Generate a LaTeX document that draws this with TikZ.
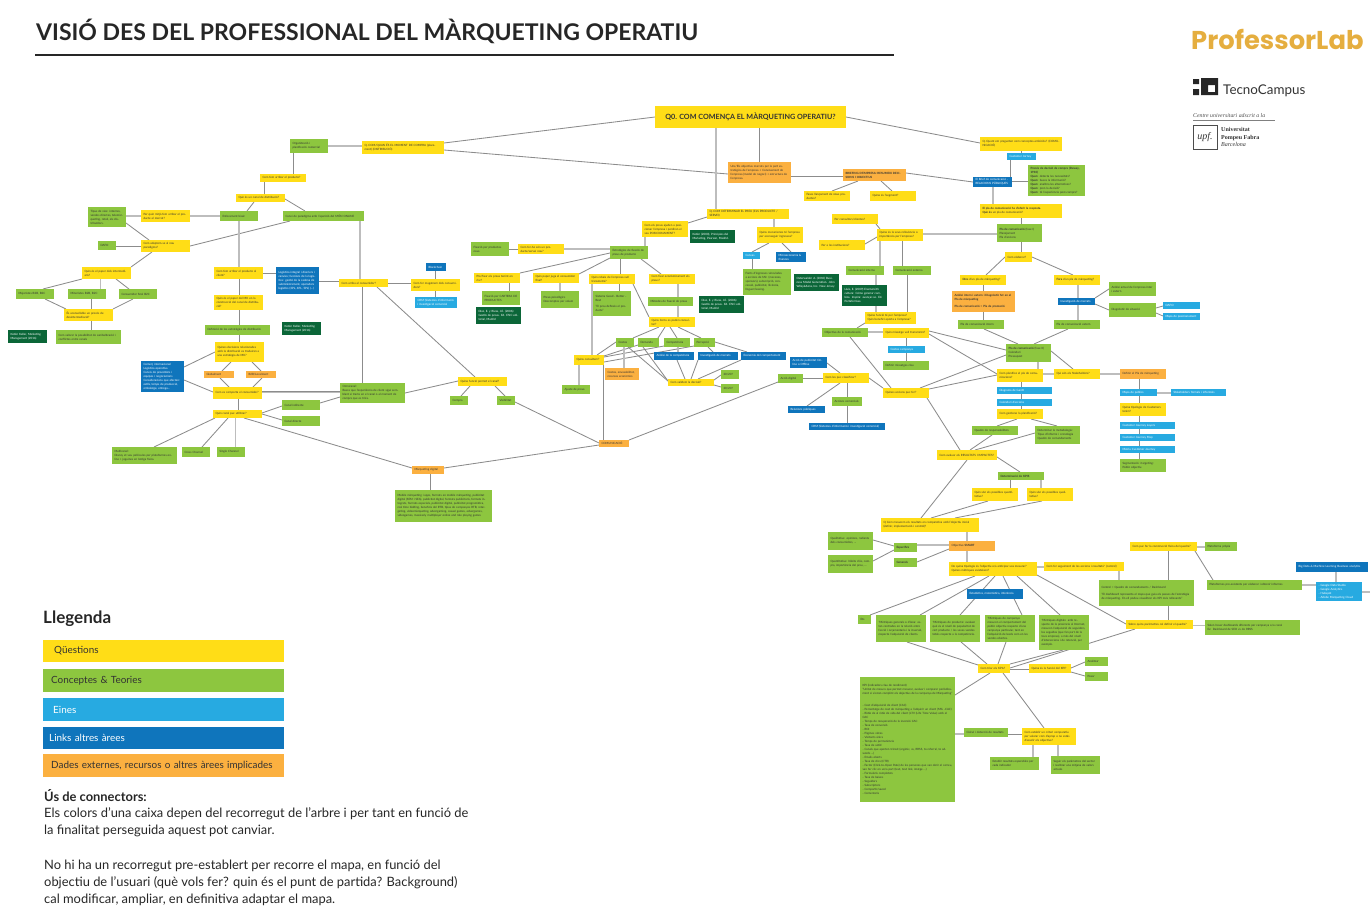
\documentclass[tikz,border=0pt]{standalone}
\usepackage{fontspec}
\setmainfont{Lato}
\newfontfamily\logofont{Poppins}
\newfontfamily\serifl{Liberation Serif}
\definecolor{cy}{HTML}{FFDD17}
\definecolor{cg}{HTML}{8DC63F}
\definecolor{cc}{HTML}{27AAE1}
\definecolor{cb}{HTML}{0F75BC}
\definecolor{co}{HTML}{FBB040}
\definecolor{cd}{HTML}{0B6638}
\definecolor{ctx}{HTML}{333333}
\definecolor{clogo}{HTML}{E5AE3F}
\definecolor{lthin}{HTML}{8C8C8C}
\definecolor{lthick}{HTML}{BDBDBD}
\pgfdeclarelayer{bg}
\pgfsetlayers{bg,main}
\tikzset{
 boxn/.style={inner xsep=2.7pt,inner ysep=0pt,align=left,anchor=center,font=\fontsize{2.9}{4}\selectfont},
 sy/.style={boxn,fill=cy,text=ctx},
 sg/.style={boxn,fill=cg,text=ctx},
 sc/.style={boxn,fill=cc,text=white},
 sb/.style={boxn,fill=cb,text=white},
 so/.style={boxn,fill=co,text=ctx},
 sd/.style={boxn,fill=cd,text=white},
 cn/.style={draw=lthin,line width=0.85pt},
 cl/.style={draw=lthick,line width=1.5pt},
 legbox/.style={inner sep=0pt,anchor=west,minimum height=22.5pt,minimum width=241pt,text width=233pt,align=left,font=\fontsize{9.9}{12}\selectfont},
 bodytxt/.style={inner sep=0pt,anchor=west,text=black!85,font=\fontsize{12.9}{14}\selectfont},
}
% node from its rectangle: name, style, x1, y1, x2, y2, text
\newcommand\nd[7]{%
 \pgfmathsetmacro\ncx{(#3+#5)/2}\pgfmathsetmacro\ncy{(#4+#6)/2}%
 \pgfmathsetmacro\nw{#5-#3}\pgfmathsetmacro\nh{#6-#4}\pgfmathsetmacro\ntw{#5-#3-5.0}%
 \expandafter\xdef\csname ndx#1\endcsname{\ncx}\expandafter\xdef\csname ndy#1\endcsname{\ncy}%
 \node[#2,inner xsep=2.5pt,minimum width=\nw pt,minimum height=\nh pt,text width=\ntw pt] (#1) at (\ncx,\ncy) {#7};}
% connector from node to node, each end placed on its node
\newcommand\lk[5][cn]{%
 \draw[#1] ([shift={(#3)},shift={(-\csname ndx#2\endcsname,-\csname ndy#2\endcsname)}]#2.center) --
 ([shift={(#5)},shift={(-\csname ndx#4\endcsname,-\csname ndy#4\endcsname)}]#4.center);}
\begin{document}
\begin{tikzpicture}[x=1pt,y=-1pt]
\useasboundingbox (0,0) rectangle (1370,905);
% title and logos
\node[inner sep=0pt,anchor=west,text=black!85,font=\fontsize{23}{28}\bfseries\selectfont] (title) at (36,31) {VISIÓ DES DEL PROFESSIONAL DEL MÀRQUETING OPERATIU};
\coordinate (tla) at (35,55); \coordinate (tlb) at (894,55);
\draw[black!85,line width=1.5pt] (tla) -- (tlb);
\node[inner sep=0pt,anchor=west,text=clogo,font=\logofont\fontsize{25.8}{30}\bfseries\selectfont] (plab) at (1191,39) {ProfessorLab};
\fill[black!85] (1193,79) rectangle (1199,84) (1193,89) rectangle (1199,95);
\fill[black!85,even odd rule] (1201,78) rectangle (1218,95) (1208,85) rectangle (1215,92);
\node[inner sep=0pt,anchor=west,text=black!80,font=\fontsize{13.4}{14}\selectfont] (tcamp) at (1223,91) {TecnoCampus};
\node[inner sep=0pt,anchor=west,text=black!70,font=\serifl\itshape\fontsize{5.8}{6}\selectfont] (adscr) at (1193,116) {Centre universitari adscrit a la};
\coordinate (ada) at (1193,120); \coordinate (adb) at (1275,120);
\draw[black!50,line width=0.4pt] (ada) -- (adb);
\node[draw=black!70,line width=0.7pt,inner sep=0pt,minimum width=24pt,minimum height=24pt,font=\serifl\itshape\fontsize{10}{10}\selectfont,text=black!80] (upf) at (1205,137) {upf.};
\node[inner sep=0pt,anchor=west,align=left,text=black!80,font=\serifl\fontsize{6}{7.3}\selectfont] (upft) at (1221,137) {\textbf{Universitat}\\\textbf{Pompeu Fabra}\\\textit{Barcelona}};

% ---------- nodes
\node[sy,inner xsep=0pt,minimum width=191pt,minimum height=22pt,align=center,font=\fontsize{7.2}{10}\bfseries\selectfont] (qzero) at (750.5,117) {Q0. COM COMENÇA EL MÀRQUETING OPERATIU?};
\expandafter\gdef\csname ndxqzero\endcsname{750.5}\expandafter\gdef\csname ndyqzero\endcsname{117}
\nd{org}{sg}{290}{139}{328}{153}{Organització i\\planificació comercial}
\nd{qa}{sy}{362}{141}{444}{154}{Q. COM/QUAN ÉS EL MOMENT DE COMPRA (placement) (DISTRIBUCIÓ)}
\nd{arrib}{sy}{260}{174}{306}{182}{Com fem arribar el producte?}
\nd{qcan}{sy}{236}{194}{285}{202}{Què és un canal de distribució?}
\nd{enfoc}{sg}{220}{211}{258}{221}{Enfocament bàsic}
\nd{canvi}{sg}{283}{211}{364}{221}{Canvi de paradigma amb l'aparició del MÓN ONLINE}
\nd{mitja}{sy}{141}{210}{190}{222}{Per quin mitjà fem arribar el producte al mercat?}
\nd{tipus}{sg}{88}{207}{126}{227}{Tipus de vies: internes, vendes directes, telemàrqueting, retail, els distribuïdors.}
\nd{dafoa}{sg}{98}{241}{116}{250}{DAFO}
\nd{adapt}{sy}{141}{240}{190}{252}{Com adaptem-se al nou paradigma?}
\nd{paper}{sy}{82}{267}{131}{279}{Quin és el paper dels intermediaris?}
\nd{major}{sg}{16}{289}{54}{299}{Majoristes B2B, B2C}
\nd{minor}{sg}{68}{289}{106}{299}{Minoristes B2B, B2C}
\nd{consf}{sg}{119}{289}{157}{299}{Consumidor final B2C}
\nd{desint}{sy}{64}{309}{113}{321}{És aconsellable un procés de desintermediació?}
\nd{valor}{sg}{56}{330}{121}{344}{Com valorar la possibilitat de sanibalització i conflictes entre canals}
\nd{kota}{sd}{8}{330}{47}{343}{Kotler Keller, Marketing Management (2016)}
\nd{qclient}{sy}{214}{267}{263}{279}{Com fem arribar el producte al client?}
\nd{logis}{sb}{276}{267}{319}{294}{Logística integral i diarriers i canvies; funcions de la logística: gestió de la cadena de subministrament, operadors logístics (3PL, 4PL, 5PL) (...)}
\nd{papermk}{sy}{214}{295}{263}{310}{Quin és el paper del MK en la construcció del canal de distribució?}
\nd{defest}{sg}{205}{325}{270}{335}{Definició de les estratègies de distribució}
\nd{kotb}{sd}{282}{322}{321}{335}{Kotler Keller, Marketing Management (2016)}
\nd{decis}{sy}{215}{342}{264}{362}{Quines decisions relacionades amb la distribució es traduiran a una estratègia de MK?}
\nd{comerc}{sb}{141}{361}{184}{392}{Comerç internacional\\Logística operativa\\Canvis de proveïdors i equipos i negociacions\\Consideracions que afecten: estils, temps de producció, embalatge, entrega...}
\nd{global}{so}{204}{371}{234}{378}{\centering Globalment}
\nd{bloc}{so}{246}{371}{276}{378}{\centering B2B/Localment}
\nd{compor}{sy}{213}{387}{262}{399}{Com es comporta el consumidor?}
\nd{omni}{sg}{340}{383}{405}{403}{Omnicanal:\\Busca que l'experiència de client sigui semblant si tracta en el canal o al moment de compra que es triés.}
\nd{quincan}{sy}{213}{410}{262}{418}{Quin canal puc utilitzar?}
\nd{indir}{sg}{282}{400}{320}{410}{Canal indirecte}
\nd{direc}{sg}{282}{416}{320}{426}{Canal directe}
\nd{multi}{sg}{112}{447}{177}{464}{Multicanal:\\Disney et veu pel·lícules per plataformes online + joguines en botiga física.}
\nd{cross}{sg}{182}{447}{210}{457}{\centering Cross Channel}
\nd{single}{sg}{217}{447}{245}{457}{\centering Single Channel}
\nd{mkdig}{so}{412}{466}{444}{474}{\centering Màrqueting digital}
\nd{mobile}{sg}{395}{490}{492}{522}{Mobile màrqueting i apps, formats en mobile màrqueting, publicitat digital (SEM i SEA), publicitat digital, formats publicitaris, formats integrats, formats especials, publicitat digital, publicitat programàtica, real time bidding, beneficis del RTB, tipus de campanyes RTB, retargeting, videomàrqueting, advergaming, casual games, advergames, videogames, massively multiplayer online and role playing games}
\nd{comarr}{sy}{339}{279}{388}{287}{Com arriba al consumidor?}
\nd{magat}{sy}{411}{279}{460}{291}{Com fer magatzem dels consumidors?}
\nd{block}{sb}{426}{263}{446}{271}{\centering Blockchain}
\nd{crma}{sc}{415}{297}{457}{308}{CRM (Sistemes d'informació i investigació comercial}
\nd{fixn}{sg}{471}{242}{509}{256}{Fixació per productes nous}
\nd{comfa}{sy}{518}{244}{564}{254}{Com fer-ho són un producte/servei nou?}
\nd{prorisc}{sy}{474}{273}{520}{283}{Pro/fixar els preus tenint en risc?}
\nd{fixcart}{sg}{482}{291}{520}{305}{Fixació per CARTERA DE PRODUCTES}
\nd{diaza}{sd}{476}{307}{521}{324}{Diaz, E. y Rivas, J.E. (2006): Gestió de preus. Ed. ESIC editorial, Madrid}
\nd{qpap}{sy}{533}{273}{579}{283}{Quin paper juga el consumidor final?}
\nd{psico}{sg}{541}{291}{579}{308}{Preus psicològics\\Descomptes per volum}
\nd{rebaix}{sy}{589}{274}{635}{284}{Quin rebaix de l'empresa vull transmetre?}
\nd{sistem}{sg}{593}{291}{631}{316}{Sistema Good - Better - Best\\[2pt]``El preu defineix el producte''}
\nd{unso}{so}{728}{162}{791}{183}{Uns/Els objectius marcats per la part estratègica de l'empresa + Coneixement de l'empresa (model de negoci) + estructura de l'empresa.}
\nd{brief}{so}{843}{169}{906}{181}{\textbf{BRIEFING D'EMPRESA: RESUMEIX DECISIONS I OBJECTIUS}}
\nd{fases}{sy}{804}{191}{850}{201}{Fases llançament de nous productes?}
\nd{segm}{sy}{870}{191}{916}{201}{Quina és l'segment?}
\nd{qb}{sy}{707}{209}{789}{219}{Q. COM DETERMINAR EL PREU (ELS PRODUCTE / SERVEI)}
\nd{posic}{sy}{642}{221}{688}{237}{Com els preus ajuden a posicionar l'empresa i perdiran el seu POSICIONAMENT?}
\nd{kotc}{sd}{690}{230}{735}{243}{Kotler (2000), Principios del Marketing, Pearson, Madrid.}
\nd{estrat}{sg}{610}{246}{648}{259}{Estratègies de fixació de preus de producte}
\nd{mecan}{sy}{757}{227}{803}{243}{Quins mecanismes té l'empresa per aconseguir ingressos?}
\nd{canvas}{sc}{743}{252}{760}{259}{\centering Canvas}
\nd{micro}{sb}{776}{252}{806}{262}{Microeconomia \& finances}
\nd{fonts}{sg}{743}{269}{791}{295}{Fonts d'ingressos vinculades a accions de Mk: (mecenes, sponsors), subscripció, concessió, publicitat, llicència, lloguer/leasing.}
\nd{oster}{sd}{794}{274}{839}{291}{Osterwalder A. (2010) Business Model Generation. John Wiley\&Sons, Inc. New Jersey}
\nd{diazb}{sd}{699}{296}{744}{313}{Diaz, E. y Rivas, J.E. (2006): Gestió de preus. Ed. ESIC editorial, Madrid}
\nd{comfix}{sy}{649}{274}{695}{284}{Com fixar econòmicament els preus?}
\nd{metod}{sg}{648}{297}{693}{306}{Mètodes de fixació de preus}
\nd{items}{sy}{649}{317}{695}{327}{Quins ítems es poden consultar?}
\nd{costos}{sg}{616}{338}{634}{347}{\centering Costos}
\nd{deman}{sg}{638}{338}{659}{347}{\centering Demanda}
\nd{compet}{sg}{664}{338}{690}{347}{\centering Competència}
\nd{percep}{sg}{694}{338}{715}{347}{\centering Percepció}
\nd{anacom}{sb}{654}{352}{694}{360}{\centering Anàlisi de la competència}
\nd{invmer}{sb}{698}{352}{738}{360}{\centering Investigació de mercats}
\nd{econ}{sb}{741}{352}{786}{360}{\centering Economia del comportament}
\nd{qcons}{sy}{574}{355}{604}{365}{Quins consultem?}
\nd{cosext}{so}{605}{368}{639}{380}{Costos, envasabilitat, recursos econòmics}
\nd{ajust}{sg}{562}{385}{590}{394}{\centering Ajuste de preus}
\nd{valid}{sy}{668}{379}{714}{386}{Com validem la decisió?}
\nd{xxa}{sg}{721}{370}{739}{379}{\centering 20/20?}
\nd{xxb}{sg}{721}{384}{739}{393}{\centering 20/20?}
\nd{comun}{so}{599}{440}{629}{447}{\centering COMUNICACIÓ}
\nd{qfunc}{sy}{458}{377}{507}{386}{Quina funció permet el canal?}
\nd{compra}{sg}{450}{396}{468}{405}{\centering Compra}
\nd{visib}{sg}{497}{396}{515}{405}{\centering Visibilitat}
\nd{acdig}{sg}{778}{374}{803}{383}{\centering Acció digital}
\nd{class}{sy}{823}{373}{869}{383}{Com les puc classificar?}
\nd{acpub}{sb}{790}{357}{827}{368}{Acció de publicitat Online o Offline}
\nd{relpub}{sb}{788}{406}{825}{413}{Relacions públiques}
\nd{accom}{sg}{832}{397}{862}{406}{\centering Accions comercials}
\nd{crmb}{sb}{809}{423}{885}{430}{\centering CRM (Sistemes d'informació i investigació comercial)}
\nd{accio}{sy}{883}{388}{929}{398}{Quines accions puc fer?}
\nd{objcom}{sg}{822}{328}{868}{337}{\centering Objectius de la comunicació}
\nd{missa}{sy}{883}{328}{929}{338}{Quin missatge vull transmetre?}
\nd{costca}{sc}{888}{346}{925}{353}{Costos campanya}
\nd{defmis}{sg}{883}{361}{929}{370}{\centering Definir missatges clau}
\nd{qfemp}{sy}{865}{312}{916}{324}{Quina funció té per l'empresa?\\Quin benefici aporta a l'empresa?}
\nd{cint}{sg}{846}{266}{884}{275}{\centering Comunicació interna}
\nd{cext}{sg}{893}{266}{931}{275}{\centering Comunicació externa}
\nd{lluis}{sd}{842}{285}{887}{306}{Lluís, E. (2009) Enamora'th cultura: Cómo generar cambios. Inspira: avançar-se. Ed. Portaferrissa}
\nd{pconsu}{sy}{832}{214}{878}{224}{Per consultors/clientes?}
\nd{relev}{sy}{877}{229}{923}{241}{Quina és la seva rellevància o importància per l'empresa?}
\nd{pinst}{sy}{819}{240}{865}{250}{Per a les institucions?}
\nd{qc}{sy}{980}{137}{1062}{151}{Q. Quant em pregunten com conceptes-ambiciós? (COMUNICACIÓ)}
\nd{cjorn}{sc}{1007}{153}{1036}{160}{\centering Customer Jorney}
\nd{briefc}{sb}{973}{177}{1012}{187}{El Brief de comunicació - RELACIONS PÚBLIQUES}
\nd{proces}{sg}{1028}{165}{1085}{196}{\textbf{Procés de decisió de compra (Dewey, 1910)}\\\textbf{Quan:} detecta les necessitats?\\\textbf{Quan:} busca la informació?\\\textbf{Quan:} analitza les alternatives?\\\textbf{Quan:} pren la decisió?\\\textbf{Quan:} té l'experiència post-compra?}
\nd{plapc}{sy}{980}{204}{1062}{218}{\textbf{El pla de comunicació ha d'oferir la resposta.}\\\textbf{Què és} un pla de comunicació?}
\nd{placa}{sg}{997}{224}{1042}{242}{\textbf{Pla de comunicació} (fase I)\\Planejament\\Pla d'accions}
\nd{comel}{sy}{1005}{252}{1032}{262}{\centering Com elaborar?}
\nd{dins}{sy}{960}{275}{1006}{285}{\textbf{Dins} d'un pla de màrqueting?}
\nd{fora}{sy}{1054}{275}{1100}{285}{\textbf{Fora} d'un pla de màrqueting?}
\nd{aninter}{so}{952}{291}{1015}{312}{\textbf{Anàlisi intern i extern i Diagnòstic fet en el Pla de màrqueting}\\[3pt]\textbf{Pla de comunicació = Pla de promoció}}
\nd{invm}{sb}{1058}{298}{1095}{305}{\centering Investigació de mercats}
\nd{plaint}{sg}{958}{320}{1004}{329}{\centering Pla de comunicació intern}
\nd{plaext}{sg}{1054}{320}{1100}{329}{\centering Pla de comunicació extern}
\nd{anemp}{sg}{1109}{282}{1156}{296}{Anàlisi actual de l'empresa inter i extern}
\nd{diagn}{sg}{1109}{303}{1156}{317}{Diagnòstic de situació}
\nd{dafob}{sc}{1163}{302}{1200}{309}{\centering DAFO}
\nd{mposi}{sc}{1163}{313}{1200}{320}{\centering Mapa de posicionament}
\nd{placb}{sg}{1006}{344}{1051}{362}{\textbf{Pla de comunicació} (fase II)\\Calendari\\Pressupost}
\nd{compl}{sy}{997}{369}{1043}{382}{Com planifico el pla de comunicacions?}
\nd{stakq}{sy}{1054}{369}{1100}{379}{Qui són els Stakeholders?}
\nd{defpm}{so}{1120}{369}{1166}{379}{Definir el Pla de màrqueting}
\nd{gantt}{sc}{997}{387}{1052}{394}{Diagrama de Gantt}
\nd{calac}{sc}{997}{399}{1052}{406}{Calendari d'accions}
\nd{gest}{sy}{997}{409}{1043}{419}{Com gestiono la planificació?}
\nd{quadr}{sg}{972}{426}{1018}{435}{\centering Quadre de responsabilitats}
\nd{deter}{sg}{1035}{426}{1080}{444}{Determinar la metodologia:\\Tipus d'informe i cronologia\\Quadre de comandaments}
\nd{aval}{sy}{937}{450}{997}{460}{Com avaluar els RESULTATS I IMPACTES?}
\nd{kpis}{sg}{998}{472}{1044}{480}{\centering\textbf{Determinació de KPIS}}
\nd{mpub}{sc}{1120}{389}{1157}{396}{Mapa de públics}
\nd{stakf}{sc}{1171}{389}{1226}{396}{\centering Stakeholders formals i informals}
\nd{tipol}{sy}{1120}{403}{1166}{416}{Quina tipologia de Customers tenim?}
\nd{cjl}{sc}{1120}{422}{1175}{429}{Customer Journey Layers}
\nd{cjm}{sc}{1120}{434}{1175}{441}{Customer Journey Map}
\nd{mcj}{sc}{1120}{446}{1175}{453}{Matriu Customer Journey}
\nd{starg}{sg}{1120}{459}{1166}{472}{Segmentació i targeting:\\Públic objectiu}
\nd{pquant}{sy}{972}{488}{1018}{501}{Quin són els possibles quantitatius?}
\nd{pqual}{sy}{1027}{488}{1073}{501}{Quin són els possibles qualitatius?}
\nd{qd}{sy}{881}{518}{979}{532}{Q Com mesurem els resultats en comparativa amb l'objectiu inicial (definir, implementació i control)?}
\nd{smart}{so}{949}{541}{995}{551}{Objectius \textbf{SMART}}
\nd{espec}{sg}{894}{543}{917}{552}{\centering\textbf{Específics}}
\nd{gener}{sg}{894}{558}{917}{567}{\centering\textbf{Generals}}
\nd{qualit}{sg}{828}{532}{873}{550}{Qualitatius: opinions, radiants dels consumidors, ...}
\nd{quantit}{sg}{828}{555}{873}{573}{Quantitatius: hàbits d'ús, compra, importància del preu, ...}
\nd{tipob}{sy}{949}{562}{1037}{576}{De quina tipologia és l'objectiu o/a anticipar-vos mesurar?\\Quines mètriques existeixen?}
\nd{segui}{sy}{1044}{562}{1124}{571}{Com fer seguiment de les accions i resultats? (control)}
\nd{estad}{sb}{967}{589}{1023}{599}{\centering Estadística, matemàtica, inferència}
\nd{etc}{sg}{858}{615}{871}{624}{\centering Etc.}
\nd{ma}{sg}{876}{615}{926}{642}{*Mètriques generals o d'àrea: estan centrades en la relació entre l'acció i orçamentaria i la inversió, respecte l'adquisició de clients.}
\nd{mb}{sg}{930}{615}{980}{642}{*Mètriques de producte: avaluen què és el nivell de popularitat de cert producte / les seves vendes totals respecte a la competència.}
\nd{mc}{sg}{985}{615}{1035}{642}{*Mètriques de campanya: mesuren el comportament del públic objectiu respecte d'una campanya particular, tant en l'adquisició de leads com en les vendes obertes.}
\nd{md}{sg}{1039}{615}{1089}{650}{*Mètriques digitals: amb respecte de la presència al Internet, mesuren l'adquisició de seguidors, los seguidos (que fan part de la teva empresa), a més del nivell d'interaccions i de retenció, per exemple.}
\nd{fisic}{sy}{1130}{542}{1197}{551}{Com puc fer la construcció física del quadre?}
\nd{platp}{sg}{1205}{542}{1237}{551}{\centering Plataforma pròpia}
\nd{contr}{sg}{1099}{580}{1194}{606}{Control = Quadre de comandaments / Dashboard\\[3pt]``El dashboard representa el mapa que guia els passos de l'estratègia de màrqueting. En ell podeu visualitzar els KPI més rellevants''}
\nd{plate}{sg}{1207}{580}{1302}{590}{Plataformes pre-existents per elaborar i obtenir informes}
\nd{bigd}{sb}{1296}{562}{1368}{572}{\centering Big Data \& Machine Learning Business analytics}
\nd{tools}{sc}{1316}{582}{1362}{601}{- Google Data Studio\\- Google Analytics\\- Hubspot\\- Adobe Marqueting Cloud}
\nd{param}{sy}{1126}{620}{1193}{629}{Sobre quins paràmetres cal definir el quadre?}
\nd{solen}{sg}{1205}{620}{1300}{635}{Solen haver dashboards diferents per campanya o/o canal\\Ex: Dashboard de SEO vs de RRSS}
\nd{trkpi}{sy}{978}{664}{1010}{673}{\centering Com triar els KPIs?}
\nd{fnkpi}{sy}{1029}{664}{1071}{673}{Quina és la funció del KPI?}
\nd{analz}{sg}{1085}{657}{1108}{666}{\centering Analitzar}
\nd{posar}{sg}{1085}{672}{1108}{681}{\centering Posar}
\nd{kpil}{sg}{860}{677}{955}{802}{KPI (indicadors clau de rendiment)\\``Unitat de mesura que permet mesurar, avaluar i comparar periòdicament si s'estan complint els objectius de la campanya de Màrqueting''\\[8pt]- Cost d'adquisició de client (CAC)\\- Percentatge de cost de màrqueting a l'adquirir un client (M\% -CAC)\\- Ràtio de al ràtio de vida del client (LTV (Life Time Value) amb el CAC\\- Temps de recuperació de la inversió CAC\\- Taxa de conversió\\- ROI\\- Pàgines vistes\\- Visitants únics\\- Temps de permanència\\- Taxa de sàtid\\- Canals que aporten trànsit (orgànic, xs, RRSS, to referral, to adwords ...)\\- Emails oberts\\- Taxa de clics (CTR)\\- Factor (Click-to-Open Rate) de les persones que van obrir el correu, van fer clic en un/a part (text, text link, imatge ...)\\- Formularis completats\\- Taxa de baixes\\- Seguidors\\- Subscriptors\\- Compartir/saved\\- Comentaris}
\nd{calc}{sg}{964}{728}{1008}{737}{Càlcul i detecció de resultats}
\nd{crit}{sy}{1022}{728}{1076}{745}{Com establir un criteri comparatiu per valorar com d'aprop o no estàs d'assolir els objectius?}
\nd{esper}{sg}{990}{757}{1039}{770}{Establir resultats esperables per cada indicador}
\nd{segpar}{sg}{1051}{756}{1100}{774}{Seguir els paràmetres del sector i realitzar una mitjana de valors actuals}
\coordinate (offr) at (1370,592);

% ---------- legend and notes
\node[inner sep=0pt,anchor=west,text=black!85,font=\fontsize{17}{18}\bfseries\selectfont] (lleg) at (43,619) {Llegenda};
\node[legbox,fill=cy,text=ctx] (lega) at (43,651) {\hspace{7pt}Qüestions};
\node[legbox,fill=cg,text=ctx] (legb) at (43,680.5) {\hspace{4pt}Conceptes \& Teories};
\node[legbox,fill=cc,text=white] (legc) at (43,709.5) {\hspace{6pt}Eines};
\node[legbox,fill=cb,text=white] (legd) at (43,738) {\hspace{2pt}Links altres àrees};
\node[legbox,fill=co,text=ctx] (lege) at (43,765.5) {\hspace{4pt}Dades externes, recursos o altres àrees implicades};
\node[bodytxt] (ta) at (44,796) {\textbf{Ús de connectors:}};
\node[bodytxt] (tb) at (44,813.5) {Els colors d'una caixa depen del recorregut de l'arbre i per tant en funció de};
\node[bodytxt] (tc) at (44,831) {la finalitat perseguida aquest pot canviar.};
\node[bodytxt] (td) at (44,866) {No hi ha un recorregut pre-establert per recorre el mapa,  en funció del};
\node[bodytxt] (te) at (44,883) {objectiu de l'usuari (què vols fer? quin és el punt de partida? Background)};
\node[bodytxt] (tf) at (44,900) {cal modificar, ampliar, en definitiva adaptar el mapa.};

% ---------- connectors
\begin{pgfonlayer}{bg}
\lk[cl]{org}{328,146}{qa}{362,146}
\lk{org}{293,153}{arrib}{293,174}
\lk{arrib}{264.5,182}{qcan}{264.5,194}
\lk{qcan}{254,202}{enfoc}{247,211}
\lk{qcan}{285,199}{canvi}{305,211}
\lk[cl]{enfoc}{220,216}{mitja}{190,216}
\lk[cl]{mitja}{141,216}{tipus}{126,216}
\lk{tipus}{126,223}{adapt}{149,240}
\lk{dafoa}{116,246}{adapt}{141,246}
\lk{adapt}{190,246}{canvi}{290,221}
\lk{adapt}{152,252}{paper}{131,267}
\lk{paper}{82,279}{major}{43,289}
\lk[cl]{paper}{100.7,279}{minor}{100.7,289}
\lk{paper}{116,279}{consf}{129,289}
\lk{major}{45,299}{desint}{66,309}
\lk{minor}{91.7,299}{desint}{91.7,309}
\lk{consf}{133,299}{desint}{113,309}
\lk{desint}{91.7,321}{valor}{91.7,330}
\lk[cl]{enfoc}{239,221}{qclient}{239,267}
\lk{qclient}{263,273}{logis}{276,273}
\lk{logis}{319,281}{comarr}{339,281}
\lk{qclient}{239,279}{papermk}{239,295}
\lk{papermk}{239,310}{defest}{239,325}
\lk{defest}{239,335}{decis}{239,342}
\lk{decis}{215,352}{comerc}{184,367}
\lk{decis}{231,362}{global}{222,371}
\lk{decis}{252,362}{bloc}{261,371}
\lk{global}{220,378}{compor}{229,387}
\lk{bloc}{262,378}{compor}{253,387}
\lk{comerc}{184,380}{compor}{213,392}
\lk[cl]{compor}{262,392.5}{omni}{340,392.5}
\lk{compor}{262,391.5}{omni}{340,391.5}
\lk{compor}{238,399}{quincan}{238,410}
\lk{quincan}{262,413}{indir}{282,406}
\lk{quincan}{262,414}{direc}{282,420}
\lk{indir}{320,403}{omni}{340,397}
\lk{quincan}{215,418}{multi}{154,447}
\lk{quincan}{228,418}{cross}{202,447}
\lk[cl]{quincan}{235.7,418}{single}{235.7,447}
\lk{quincan}{244,418}{mkdig}{412,468}
\lk{omni}{405,393}{qfunc}{458,381}
\lk[cl]{canvi}{360,221}{comarr}{360,279}
\lk{comarr}{362,287}{omni}{362,383}
\lk{comarr}{388,283.5}{magat}{411,283.5}
\lk{magat}{435,279}{block}{435,271}
\lk{magat}{435,291}{crma}{435,297}
\lk{comarr}{377,287}{qfunc}{475,377}
\lk{qfunc}{470,386}{compra}{461,396}
\lk{qfunc}{495,386}{visib}{505,396}
\lk{visib}{515,402}{comun}{599,443}
\lk{comun}{599,445}{mkdig}{444,468}
\lk{mkdig}{430,474}{mobile}{430,490}
\lk{qa}{444,143}{qzero}{655,117}
\lk{qa}{444,150}{unso}{728,174}
\lk[cl]{qzero}{716,128}{qb}{716,209}
\lk{qzero}{759,128}{unso}{759,162}
\lk{unso}{791,176.7}{brief}{843,176.7}
\lk{brief}{858,181}{fases}{832,191}
\lk{brief}{881,181}{segm}{892,191}
\lk{brief}{906,173}{briefc}{973,182}
\lk{qzero}{846,117}{qc}{980,143}
\lk{qc}{1021,151}{cjorn}{1021,153}
\lk{cjorn}{1010,160}{briefc}{1010,177}
\lk{briefc}{1012,181.7}{proces}{1028,181.7}
\lk[cl]{briefc}{993,187}{plapc}{993,204}
\lk{plapc}{1021,218}{placa}{1021,224}
\lk{placa}{1021,242}{comel}{1021,252}
\lk{comel}{1005,257}{dins}{986,275}
\lk{comel}{1032,257}{fora}{1073,275}
\lk{dins}{983,285}{aninter}{983,291}
\lk{aninter}{983,312}{plaint}{983,320}
\lk[cl]{fora}{1078,285}{invm}{1078,298}
\lk[cl]{invm}{1078,305}{plaext}{1078,320}
\lk{invm}{1095,298}{anemp}{1109,289}
\lk{invm}{1095,304}{diagn}{1109,310}
\lk{diagn}{1156,308}{dafob}{1163,306}
\lk{diagn}{1156,313}{mposi}{1163,316}
\lk{plaint}{984,329}{placb}{1018,344}
\lk{plaext}{1068,329}{placb}{1034,344}
\lk{placb}{1006,350}{missa}{929,331}
\lk{missa}{929,334}{compl}{997,374}
\lk{placb}{1006,355}{accio}{920,388}
\lk{compl}{997,375}{accio}{929,389}
\lk[cl]{placb}{1038,362}{compl}{1038,369}
\lk{placb}{1051,351}{stakq}{1073,369}
\lk[cl]{compl}{1043,374}{stakq}{1054,374}
\lk[cl]{stakq}{1100,374}{defpm}{1120,374}
\lk{defpm}{1139,379}{mpub}{1139,389}
\lk[cl]{mpub}{1157,393}{stakf}{1171,393}
\lk{mpub}{1139,396}{tipol}{1139,403}
\lk{tipol}{1139,416}{cjl}{1139,422}
\lk{cjl}{1139,429}{cjm}{1139,434}
\lk{cjm}{1139,441}{mcj}{1139,446}
\lk{mcj}{1139,453}{starg}{1139,459}
\lk{compl}{1021,382}{gantt}{1021,387}
\lk{gantt}{1021,394}{calac}{1021,399}
\lk{calac}{1021,406}{gest}{1021,409}
\lk{gest}{1017,419}{quadr}{997,426}
\lk{gest}{1031,419}{deter}{1057,426}
\lk{quadr}{992,435}{aval}{970,450}
\lk{deter}{1035,433}{aval}{975,450}
\lk{accio}{927,398}{aval}{960,450}
\lk{aval}{997,457}{kpis}{1020,472}
\lk{aval}{967,460}{qd}{921,518}
\lk{kpis}{1010,480}{pquant}{1010,488}
\lk[cl]{kpis}{1041,480}{pqual}{1041,488}
\lk{pquant}{988,501}{qd}{931,518}
\lk{pqual}{1042,501}{qd}{955,518}
\lk[cl]{qd}{967,532}{smart}{967,541}
\lk[cl]{smart}{949,545}{espec}{917,545}
\lk{smart}{949,549}{gener}{917,562}
\lk{espec}{894,546}{qualit}{873,540}
\lk{espec}{894,550}{quantit}{873,561}
\lk[cl]{smart}{967,551}{tipob}{967,562}
\lk[cl]{tipob}{1037,567}{segui}{1044,567}
\lk[cl]{segui}{1119,571}{contr}{1119,580}
\lk{contr}{1168,580}{fisic}{1168,551}
\lk[cl]{fisic}{1197,547}{platp}{1205,547}
\lk{fisic}{1195,551}{plate}{1213,580}
\lk[cl]{plate}{1302,585}{tools}{1316,585}
\lk[cl]{tools}{1336,582}{bigd}{1336,572}
\draw[cl] (tools.east |- offr) -- (offr);
\lk{contr}{1168,606}{param}{1168,620}
\lk[cl]{param}{1193,625.7}{solen}{1205,625.7}
\lk{tipob}{1037,575}{param}{1126,624}
\lk{tipob}{975,576}{etc}{870,615}
\lk{tipob}{989,576}{ma}{920,615}
\lk{tipob}{995,576}{mb}{960,615}
\lk{tipob}{1003,576}{mc}{1022,615}
\lk{tipob}{1017,576}{md}{1060,615}
\lk{ma}{907,642}{trkpi}{978,665}
\lk{mb}{961,642}{trkpi}{987,664}
\lk{mc}{1006,642}{trkpi}{998,664}
\lk{md}{1063,650}{trkpi}{1010,664}
\lk{param}{1135,629}{trkpi}{1010,668}
\lk{trkpi}{1010,669}{fnkpi}{1029,669}
\lk{fnkpi}{1071,668}{analz}{1085,662}
\lk{fnkpi}{1071,672}{posar}{1085,676}
\lk{trkpi}{990,673}{kpil}{955,695}
\lk{trkpi}{1003,673}{crit}{1044,728}
\lk[cl]{kpil}{955,734}{calc}{964,734}
\lk{calc}{1008,734}{crit}{1022,734}
\lk[cl]{crit}{1033,745}{esper}{1033,757}
\lk[cl]{crit}{1058,745}{segpar}{1058,756}
\lk{qb}{707,217}{posic}{688,223}
\lk[cl]{posic}{645,237}{estrat}{645,246}
\lk[cl]{comfa}{564,249}{estrat}{610,249}
\lk{fixn}{509,249}{comfa}{518,249}
\lk{estrat}{610,253}{prorisc}{520,273}
\lk{estrat}{610,258}{qpap}{579,274}
\lk{estrat}{620,259}{rebaix}{620,274}
\lk{estrat}{641,259}{comfix}{661,274}
\lk{prorisc}{509,283}{fixcart}{509,291}
\lk[cl]{qpap}{560,283}{psico}{560,291}
\lk{rebaix}{619,284}{sistem}{619,291}
\lk[cl]{rebaix}{592,284}{qcons}{592,355}
\lk[cl]{comfix}{678,284}{metod}{678,297}
\lk[cl]{metod}{678,306}{items}{678,317}
\lk{rebaix}{633,284}{items}{649,317}
\lk{items}{659,327}{costos}{633,338}
\lk{items}{665,327}{deman}{658,338}
\lk{items}{670,327}{compet}{677,338}
\lk{items}{678,327}{percep}{701,338}
\lk{qcons}{597,355}{costos}{616,342}
\lk{qcons}{604,356}{deman}{638,345}
\lk{qcons}{604,357}{compet}{664,346}
\lk{qcons}{604,362}{percep}{694,346}
\lk[cl]{costos}{624,347}{cosext}{624,368}
\lk{costos}{628,347}{valid}{668,381}
\lk{deman}{643,347}{valid}{668,381}
\lk[cl]{compet}{678,347}{anacom}{678,352}
\lk{anacom}{677,360}{valid}{685,379}
\lk{percep}{708,347}{invmer}{713,352}
\lk{invmer}{698,360}{valid}{691,379}
\lk{percep}{715,342}{econ}{747,352}
\lk{econ}{741,360}{valid}{698,379}
\lk{valid}{714,380}{xxa}{721,375}
\lk{valid}{714,385}{xxb}{721,387}
\lk[cl]{qcons}{579,365}{ajust}{579,385}
\lk{qcons}{603,365}{comun}{603,440}
\lk{comun}{629,440}{acdig}{778,382}
\lk{acdig}{803,378}{class}{823,378}
\lk{class}{840,373}{acpub}{827,363}
\lk{class}{840,383}{relpub}{807,406}
\lk{class}{847,383}{accom}{847,397}
\lk{accom}{847,406}{crmb}{847,423}
\lk{class}{869,378}{accio}{883,388}
\lk{objcom}{850,337}{accio}{891,388}
\lk[cl]{objcom}{868,332}{missa}{883,332}
\lk{qfemp}{865,323}{objcom}{857,328}
\lk{missa}{906,338}{costca}{906,346}
\lk{costca}{906,353}{defmis}{906,361}
\lk[cl]{qfemp}{876,312}{lluis}{876,306}
\lk[cl]{lluis}{876,285}{cint}{876,275}
\lk{cext}{907,275}{qfemp}{907,312}
\lk[cl]{relev}{880,241}{cint}{880,266}
\lk{relev}{902,241}{cext}{902,266}
\lk{relev}{880,229}{pconsu}{876,224}
\lk{relev}{877,237}{pinst}{865,244}
\lk[cl]{relev}{923,234}{placa}{997,234}
\lk[cl]{qb}{774,219}{mecan}{774,227}
\lk{mecan}{769,243}{canvas}{752,252}
\lk{mecan}{782,243}{micro}{791,252}
\lk{canvas}{752,259}{fonts}{752,269}
\end{pgfonlayer}
\end{tikzpicture}
\end{document}
